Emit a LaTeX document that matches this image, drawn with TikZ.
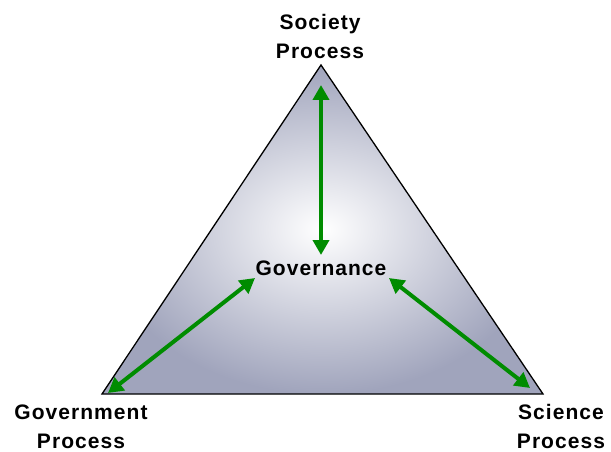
\documentclass[tikz,border=0pt]{standalone}
\usepackage{fontspec}
\setmainfont[LetterSpace=5]{Liberation Sans}
\usetikzlibrary{arrows.meta}

\definecolor{linkgreen}{RGB}{0,140,0}
\definecolor{prismgray}{RGB}{160,164,188}

\tikzset{
  process/.style={font=\fontsize{21}{29}\selectfont\bfseries, align=center, inner sep=0pt},
  link/.style={draw=linkgreen, line width=4pt,
    {Triangle[length=15pt,width=16pt]}-{Triangle[length=15pt,width=16pt]}}
}

\begin{document}
\begin{tikzpicture}[x=1pt,y=-1pt]
  \useasboundingbox (0,0) rectangle (611,452);
  % corners of the triangle
  \coordinate (top) at (321,65);
  \coordinate (left) at (102,394);
  \coordinate (right) at (543,394);
  \shadedraw[inner color=white, outer color=prismgray, draw=black, line width=1.3pt]
    (top) -- (left) -- (right) -- cycle;

  % labels (base = last line)
  \node[process, anchor=base] (society) at (320,59) {Society\\Process};
  \node[process, anchor=base] (government) at (81,448) {Government\\Process};
  \node[process, anchor=base] (science) at (561,448) {Science\\Process};
  \node[process, anchor=base] (governance) at (321,275) {Governance};

  % arrow ends
  \coordinate (society end) at (321,85);
  \coordinate (society gov) at (321,255);
  \coordinate (government end) at (108,393);
  \coordinate (government gov) at (255,278);
  \coordinate (science end) at (530,388);
  \coordinate (science gov) at (389,278);

  \draw[link] (society end) -- (society gov);
  \draw[link] (government end) -- (government gov);
  \draw[link] (science end) -- (science gov);
\end{tikzpicture}
\end{document}
